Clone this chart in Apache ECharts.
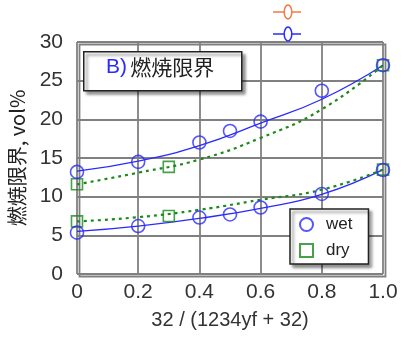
<!DOCTYPE html>
<html><head><meta charset="utf-8">
<script src="https://cdn.jsdelivr.net/npm/echarts@6/dist/echarts.min.js"></script>
<style>html,body{margin:0;padding:0;background:#fff}#c{width:401px;height:338px}</style>
</head><body><div id="c"></div>
<script>
// measured points
const wetX = [0, 0.2, 0.4, 0.5, 0.6, 0.8, 1.0];
const wetUpper = [13.2, 14.5, 17.0, 18.5, 19.7, 23.7, 27.0];
const wetLower = [5.35, 6.2, 7.3, 7.7, 8.6, 10.35, 13.45];
const dryX = [0, 0.3, 1.0];
const dryUpper = [11.6, 13.85, 27.0];
const dryLower = [6.8, 7.5, 13.5];
// fitted curves
const fitX = [0, 0.2, 0.4, 0.6, 0.8, 1.0];
const wetFitUpper = [13.3, 14.6, 16.6, 19.5, 22.6, 27.0];
const wetFitLower = [5.5, 6.2, 7.2, 8.5, 10.3, 13.5];
const dryFitUpper = [11.6, 13.1, 14.8, 17.6, 21.3, 27.0];
const dryFitLower = [6.8, 7.35, 8.3, 9.6, 10.9, 13.5];
const xTicks = [0, 0.2, 0.4, 0.6, 0.8, 1.0];
const xTickLabels = ['0', '0.2', '0.4', '0.6', '0.8', '1.0'];

const BLUE = '#2a2aff', GREEN = '#1a8a1a', ORANGE = '#f07a48';
const zip = (xs, ys) => xs.map((x, i) => [x, ys[i]]);
const font = 'Liberation Sans, Arial, sans-serif';
const GRID = '#808080';

const chart = echarts.init(document.getElementById('c'));
chart.setOption({
  animation: false,
  grid: {left: 77, right: 18, top: 42, bottom: 64, outerBoundsMode: 'none', containLabel: false},
  xAxis: {
    type: 'value', min: 0, max: 1, interval: 0.2,
    name: '32 / (1234yf + 32)', nameLocation: 'middle', nameGap: 36,
    nameTextStyle: {fontSize: 20, color: '#333', fontFamily: font},
    axisLine: {show: false}, axisTick: {show: false},
    axisLabel: {fontSize: 21, color: '#333', fontFamily: font, margin: 8,
      formatter: v => { const i = xTicks.findIndex(t => Math.abs(t - v) < 1e-6); return i >= 0 ? xTickLabels[i] : ''; }},
    splitLine: {lineStyle: {color: GRID, width: 1.8}}
  },
  yAxis: {
    type: 'value', min: 0, max: 30, interval: 5,
    name: '燃焼限界, vol%', nameLocation: 'middle', nameGap: 50,
    nameTextStyle: {fontSize: 20, color: '#222', fontFamily: 'Noto Sans CJK JP'},
    axisLine: {show: false}, axisTick: {show: false},
    axisLabel: {fontSize: 21, color: '#333', fontFamily: font, margin: 14},
    splitLine: {lineStyle: {color: GRID, width: 1.8}}
  },
  legend: {
    left: 290, top: 209, width: 64, orient: 'vertical',
    data: [{name: 'wet', icon: 'circle'}, {name: 'dry', icon: 'rect'}],
    backgroundColor: '#fff', borderColor: '#222', borderWidth: 1.5,
    shadowColor: 'rgba(0,0,0,0.45)', shadowBlur: 3, shadowOffsetX: 3, shadowOffsetY: 3,
    padding: [7, 16, 5, 9], itemGap: 9, itemWidth: 13, itemHeight: 13,
    textStyle: {fontSize: 17, color: '#222', fontFamily: font, padding: [0, 0, 0, 8]}
  },
  series: [
    {name: 'wetfitU', type: 'line', smooth: true, showSymbol: false, data: zip(fitX, wetFitUpper),
      lineStyle: {color: BLUE, width: 1.3}, z: 3},
    {name: 'wetfitL', type: 'line', smooth: true, showSymbol: false, data: zip(fitX, wetFitLower),
      lineStyle: {color: BLUE, width: 1.3}, z: 3},
    {name: 'dryfitU', type: 'line', smooth: true, showSymbol: false, data: zip(fitX, dryFitUpper),
      lineStyle: {color: GREEN, width: 2.2, type: [3, 4]}, z: 3},
    {name: 'dryfitL', type: 'line', smooth: true, showSymbol: false, data: zip(fitX, dryFitLower),
      lineStyle: {color: GREEN, width: 2.2, type: [3, 4]}, z: 3},
    {name: 'wet', type: 'scatter', symbol: 'circle', symbolSize: 13,
      data: zip(wetX, wetUpper).concat(zip(wetX, wetLower)),
      itemStyle: {color: 'rgba(255,255,255,0)', borderColor: BLUE, borderWidth: 1.6}, z: 5},
    {name: 'dry', type: 'scatter', symbol: 'rect', symbolSize: 11,
      data: zip(dryX, dryUpper).concat(zip(dryX, dryLower)),
      itemStyle: {color: 'rgba(255,255,255,0)', borderColor: GREEN, borderWidth: 1.6}, z: 4}
  ],
  graphic: [
    {type: 'rect', left: 77, top: 42, shape: {width: 306, height: 232}, silent: true,
      style: {fill: 'none', stroke: GRID, lineWidth: 1.8}, z: 1},
    {type: 'rect', left: 83, top: 51, shape: {width: 158, height: 39},
      style: {fill: '#fff', stroke: '#222', lineWidth: 1.5,
        shadowColor: 'rgba(0,0,0,0.45)', shadowBlur: 3, shadowOffsetX: 3, shadowOffsetY: 3}, z: 10},
    {type: 'text', left: 106, top: 57, z: 11,
      style: {text: '{b|B)} {k|燃焼限界}', rich: {
        b: {fontSize: 21, fill: BLUE, fontFamily: font},
        k: {fontSize: 21, fill: '#222', fontFamily: 'Noto Sans CJK JP'}}}},
    {type: 'line', shape: {x1: 273, y1: 12, x2: 301, y2: 12}, style: {stroke: ORANGE, lineWidth: 1.5}, z: 10},
    {type: 'ellipse', shape: {cx: 288, cy: 12, rx: 3.8, ry: 7}, style: {fill: '#fff', stroke: ORANGE, lineWidth: 1.5}, z: 11},
    {type: 'line', shape: {x1: 273, y1: 34, x2: 301, y2: 34}, style: {stroke: BLUE, lineWidth: 1.5}, z: 10},
    {type: 'ellipse', shape: {cx: 288, cy: 34, rx: 3.8, ry: 7}, style: {fill: '#fff', stroke: BLUE, lineWidth: 1.5}, z: 11}
  ]
});
</script></body></html>
